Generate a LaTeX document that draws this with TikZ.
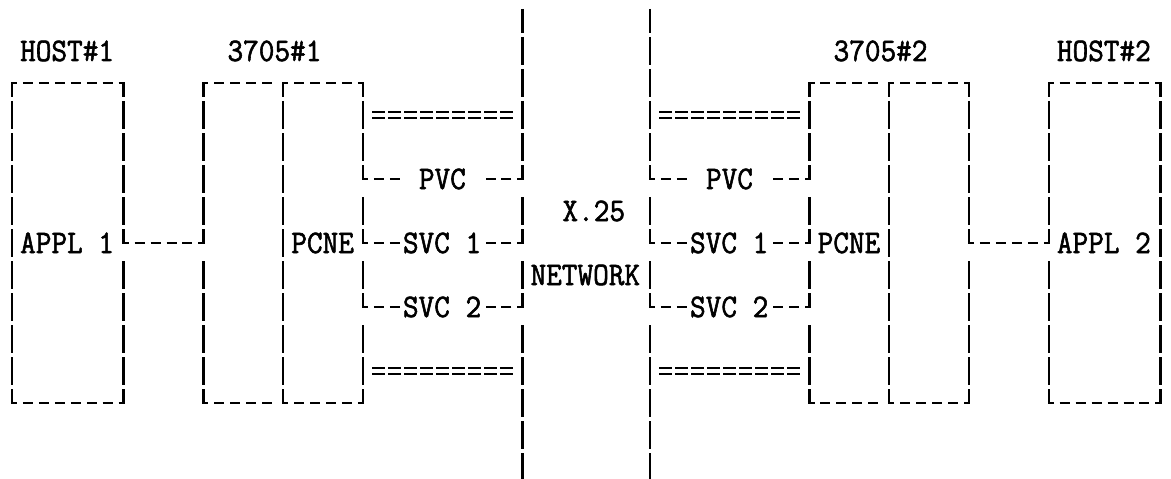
\documentclass[tikz,border=0pt]{standalone}
\newcommand\typed[1]{\special{pdf:literal direct 2 Tr 0.55 w}\scalebox{1}[1.08]{#1}\special{pdf:literal direct 0 Tr}}
\tikzset{
  vl/.style={line width=2.4pt},
  vlc/.style={line width=2.4pt, line cap=rect},
  hl/.style={line width=2.6pt, dash pattern=on 10pt off 5.95pt, dash phase=5pt},
  eq/.style={line width=1.9pt, dash pattern=on 13pt off 2.95pt},
  txt/.style={font=\fontsize{30.38pt}{36pt}\selectfont\ttfamily, inner sep=0pt, anchor=base west, yshift=-10pt},
}
% full bar, top corner tick (lower half), bottom corner tick (upper half)
\newcommand\segFull[2]{\draw[vl] (#1,#2-0.4375) -- (#1,#2+0.4375);}
\newcommand\segTop[2]{\draw[vlc] (#1,#2) -- (#1,#2+0.4);}
\newcommand\segBot[2]{\draw[vlc] (#1,#2-0.4) -- (#1,#2);}
\begin{document}
\begin{tikzpicture}[x=15.95pt, y=-32pt]
\fill[white] (-12pt,83pt) rectangle (1159pt,-396pt);
\useasboundingbox (-12pt,83pt) rectangle (1159pt,-396pt);

% ---------- box sides ----------
% HOST#1 box
\segTop{0}{0}  \foreach \r in {1,...,9} {\segFull{0}{\r}}  \segBot{0}{10}
\segTop{7}{0}  \foreach \r in {1,2,3,4,6,7,8,9} {\segFull{7}{\r}} \segBot{7}{5} \segBot{7}{10}
% 3705#1 boxes
\segTop{12}{0} \foreach \r in {1,2,3,4,6,7,8,9} {\segFull{12}{\r}} \segBot{12}{5} \segBot{12}{10}
\segTop{17}{0} \foreach \r in {1,...,9} {\segFull{17}{\r}} \segBot{17}{10}
\segTop{22}{0} \foreach \r in {1,2,4,6,8,9} {\segFull{22}{\r}} \foreach \r in {3,5,7,10} {\segBot{22}{\r}}
% X.25 network lines
\draw[vl] (32,-2.3125) -- (32,-1.5625);
\foreach \r in {-1,0,1,2,4,6,8,9,10,11} {\segFull{32}{\r}} \foreach \r in {3,5,7} {\segBot{32}{\r}}
\draw[vl] (32,11.5625) -- (32,12.375);
\draw[vl] (40,-2.3125) -- (40,-1.5625);
\foreach \r in {-1,0,1,2,4,6,8,9,10,11} {\segFull{40}{\r}} \foreach \r in {3,5,7} {\segBot{40}{\r}}
\draw[vl] (40,11.5625) -- (40,12.375);
% 3705#2 boxes
\segTop{50}{0} \foreach \r in {1,2,4,6,8,9} {\segFull{50}{\r}} \foreach \r in {3,5,7,10} {\segBot{50}{\r}}
\segTop{55}{0} \foreach \r in {1,...,9} {\segFull{55}{\r}} \segBot{55}{10}
\segTop{60}{0} \foreach \r in {1,2,3,4,6,7,8,9} {\segFull{60}{\r}} \segBot{60}{5} \segBot{60}{10}
% HOST#2 box
\segTop{65}{0} \foreach \r in {1,2,3,4,6,7,8,9} {\segFull{65}{\r}} \segBot{65}{5} \segBot{65}{10}
\segTop{72}{0} \foreach \r in {1,...,9} {\segFull{72}{\r}} \segBot{72}{10}

% ---------- top and bottom borders ----------
\foreach \r in {0,10} {
  \draw[hl] (0,\r) -- (7,\r);
  \draw[hl] (12,\r) -- (16.5,\r);
  \draw[hl] (17,\r) -- (22,\r);
  \draw[hl] (50,\r) -- (54.5,\r);
  \draw[hl] (55,\r) -- (60,\r);
  \draw[hl] (65,\r) -- (72,\r);
}
% host - 3705 links
\draw[hl] (7,5) -- (12,5);
\draw[hl] (60,5) -- (65,5);
% PVC / SVC links
\foreach \r in {3,5,7} {
  \draw[hl] (22,\r) -- (24.5,\r);
  \draw[hl] (32,\r) -- (29.5,\r);
  \draw[hl] (40,\r) -- (42.5,\r);
  \draw[hl] (50,\r) -- (47.5,\r);
}
% ===== lines
\foreach \r in {1,9} {
  \foreach \s in {3pt,-3pt} {
    \draw[eq, yshift=\s] (22.5925,\r) -- (31.4075,\r);
    \draw[eq, yshift=\s] (40.5925,\r) -- (49.4075,\r);
  }
}

% ---------- texts ----------
\node[txt] (host1) at (0.5,-1) {\typed{HOST\#1}};
\node[txt] (nc1) at (13.5,-1) {\typed{3705\#1}};
\node[txt] (nc2) at (51.5,-1) {\typed{3705\#2}};
\node[txt] (host2) at (65.5,-1) {\typed{HOST\#2}};
\node[txt] (appl1) at (0.5,5) {\typed{APPL 1}};
\node[txt] (pcne1) at (17.5,5) {\typed{PCNE}};
\node[txt] (pvc1) at (25.5,3) {\typed{PVC}};
\node[txt] (svc11) at (24.5,5) {\typed{SVC 1}};
\node[txt] (svc21) at (24.5,7) {\typed{SVC 2}};
\node[txt] (x25) at (34.5,4) {\typed{X.25}};
\node[txt] (net) at (32.5,6) {\typed{NETWORK}};
\node[txt] (pvc2) at (43.5,3) {\typed{PVC}};
\node[txt] (svc12) at (42.5,5) {\typed{SVC 1}};
\node[txt] (svc22) at (42.5,7) {\typed{SVC 2}};
\node[txt] (pcne2) at (50.5,5) {\typed{PCNE}};
\node[txt] (appl2) at (65.5,5) {\typed{APPL 2}};
\end{tikzpicture}
\end{document}
